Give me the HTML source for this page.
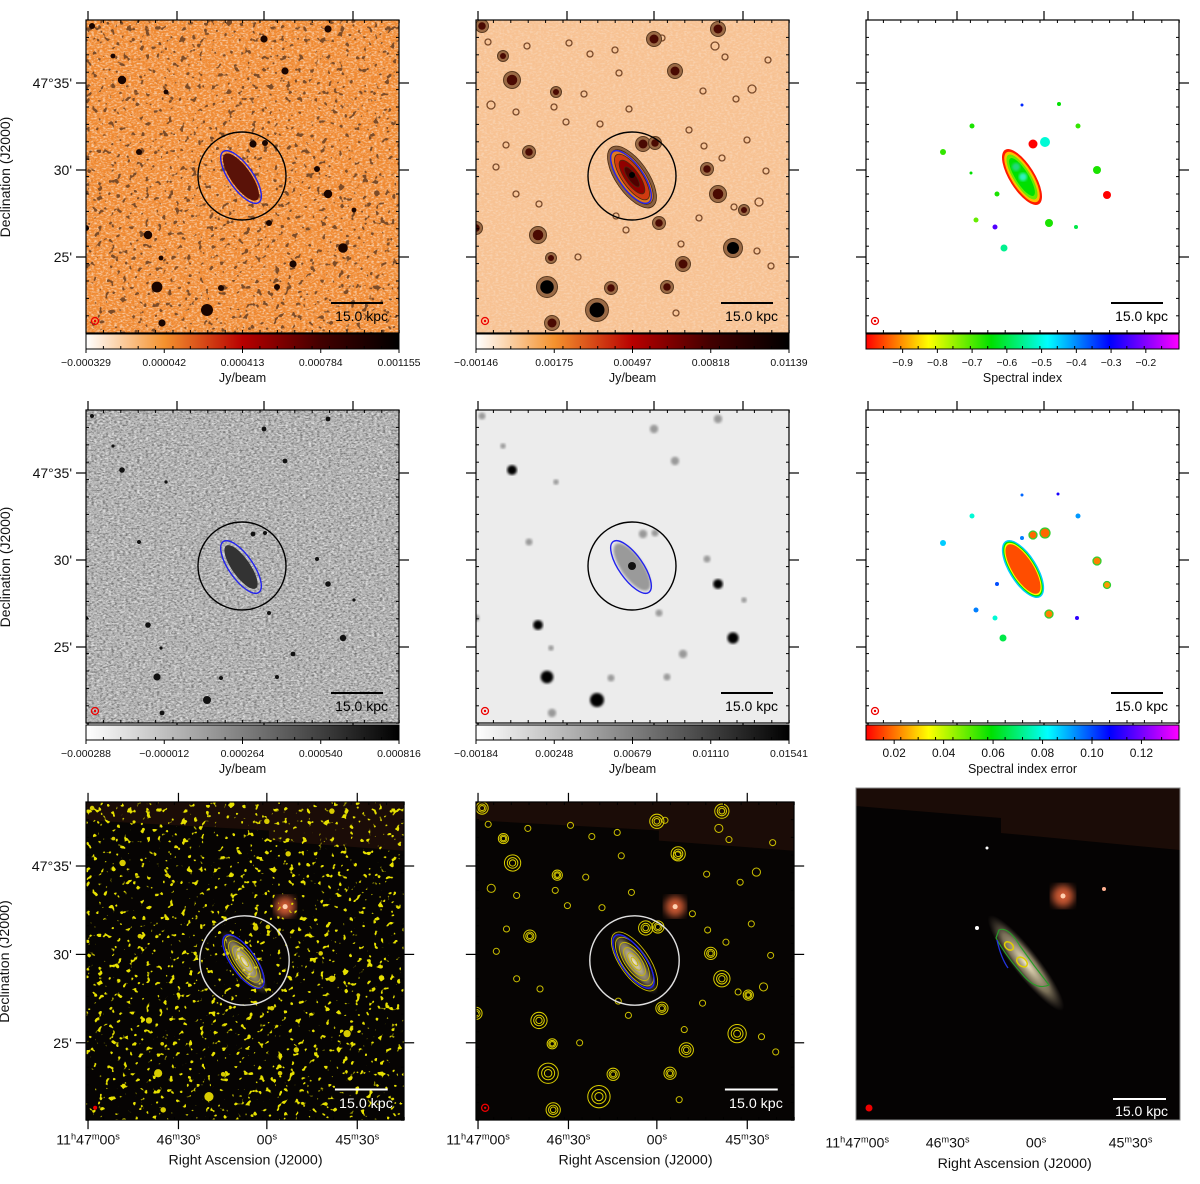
<!DOCTYPE html>
<html><head><meta charset="utf-8"><style>
html,body{margin:0;padding:0;background:#fff;}
svg{display:block;font-family:"Liberation Sans",sans-serif;}
text{fill:#111;}
</style></head><body>
<svg id="fig" width="1200" height="1184" viewBox="0 0 1200 1184" xmlns="http://www.w3.org/2000/svg">
<defs>
<linearGradient id="cmHeat"><stop offset="0" stop-color="#ffffff"/><stop offset="0.25" stop-color="#f5922e"/><stop offset="0.5" stop-color="#b80000"/><stop offset="0.75" stop-color="#420000"/><stop offset="1" stop-color="#000"/></linearGradient>
<linearGradient id="cmGray"><stop offset="0" stop-color="#fff"/><stop offset="1" stop-color="#000"/></linearGradient>
<linearGradient id="cmRainbow"><stop offset="0" stop-color="#ff0000"/><stop offset="0.2" stop-color="#ffff00"/><stop offset="0.4" stop-color="#00e000"/><stop offset="0.58" stop-color="#00ffff"/><stop offset="0.78" stop-color="#0000ff"/><stop offset="1" stop-color="#ff00ff"/></linearGradient>
<filter id="noiseW" x="0" y="0" width="1" height="1"><feTurbulence type="fractalNoise" baseFrequency="0.35 0.6" numOctaves="2" seed="4"/><feColorMatrix type="matrix" values="0 0 0 0 1  0 0 0 0 1  0 0 0 0 1  3 0 0 0 -1.3"/></filter>
<filter id="noiseK" x="0" y="0" width="1" height="1"><feTurbulence type="fractalNoise" baseFrequency="0.35 0.6" numOctaves="2" seed="9"/><feColorMatrix type="matrix" values="0 0 0 0 0  0 0 0 0 0  0 0 0 0 0  3 0 0 0 -1.35"/></filter>
<filter id="spotsDark" x="0" y="0" width="1" height="1"><feTurbulence type="fractalNoise" baseFrequency="0.17" numOctaves="2" seed="2"/><feColorMatrix type="matrix" values="0 0 0 0 0.2  0 0 0 0 0.07  0 0 0 0 0.02  16 0 0 0 -10.3"/></filter>
<filter id="spotsYellow" x="0" y="0" width="1" height="1"><feTurbulence type="fractalNoise" baseFrequency="0.17" numOctaves="2" seed="2"/><feColorMatrix type="matrix" values="0 0 0 0 0.8  0 0 0 0 0.75  0 0 0 0 0  16 0 0 0 -10.4"/></filter>
<filter id="soft"><feGaussianBlur stdDeviation="1.2"/></filter>
<filter id="blur3"><feGaussianBlur stdDeviation="4"/></filter>
<radialGradient id="galGlow"><stop offset="0" stop-color="#fff4d0" stop-opacity="0.95"/><stop offset="0.6" stop-color="#c8b890" stop-opacity="0.6"/><stop offset="1" stop-color="#807060" stop-opacity="0"/></radialGradient>
<clipPath id="clipP"><rect x="0" y="0" width="313" height="313"/></clipPath>
<clipPath id="clipP3"><rect x="0" y="0" width="324" height="332"/></clipPath>
</defs>
<g id="root"></g>
</svg>
<script>
// ---- data arrays (panel-relative positions on 313px frame) ----
const brightSrcX = [36,178,242,199,53,167,179,231,242,62,257,207,71,121,76,183,191,75,6,80,135,27,268,0];
const brightSrcY = [60,19,9,51,132,124,123,149,174,215,228,244,267,290,303,203,267,238,6,72,268,36,190,208];
const brightSrcR = [7,6,6,6,5,6,5,5,7,7,8,6,9,10,6,5,5,4,5,4,5,4,4,5];
const faintSrcX = [12,51,93,114,139,143,186,198,239,249,227,260,292,15,40,78,108,124,153,90,30,20,213,228,246,271,290,283,258,223,205,150,140,102,63,40,281,295,276,200];
const faintSrcY = [22,26,23,34,30,53,18,53,26,37,71,79,40,85,92,87,74,104,89,102,125,147,110,126,138,120,151,182,187,198,224,210,196,237,184,174,231,246,69,293];
const faintSrcR = [3,3,3,3,3,3,3,4,4,3,3,3,3,4,3,3,3,3,3,3,3,3,3,3,3,3,3,4,3,3,3,3,3,3,3,3,3,3,4,3];
const specBlobX = [106,77,156,193,212,167,179,231,241,105,131,110,129,183,138,210];
const specBlobY = [106,132,85,84,106,124,122,150,175,153,174,200,207,203,228,207];
const specBlobV = [0.38,0.36,0.75,0.4,0.36,0.0,0.55,0.38,0.0,0.4,0.38,0.32,0.85,0.38,0.5,0.45];
const specBlobR = [2.5,3,1.5,2,2.5,4.5,5,4,4,1.5,2.5,2.5,2.5,4,3.5,2];
const errBlobX = [106,77,167,179,156,212,231,241,183,137,110,129,211,131,192,156];
const errBlobY = [106,133,125,123,128,106,151,175,204,228,200,208,208,174,84,85];
const errBlobV = [0.55,0.62,0.08,0.08,0.68,0.66,0.1,0.12,0.1,0.45,0.68,0.55,0.82,0.72,0.8,0.7];
const errBlobR = [2.5,3,4,5,2,2.5,4,3.5,4,3.5,2.5,2.5,2,2,1.5,1.5];
const cbarTicks1a = ["\u22120.000329","0.000042","0.000413","0.000784","0.001155"];
const cbarTicks1b = ["\u22120.00146","0.00175","0.00497","0.00818","0.01139"];
const cbarTicks1c = ["\u22120.9","\u22120.8","\u22120.7","\u22120.6","\u22120.5","\u22120.4","\u22120.3","\u22120.2"];
const cbarTicks1cPos = [0.117,0.228,0.339,0.45,0.561,0.672,0.783,0.894];
const cbarTicks2a = ["\u22120.000288","\u22120.000012","0.000264","0.000540","0.000816"];
const cbarTicks2b = ["\u22120.00184","0.00248","0.00679","0.01110","0.01541"];
const cbarTicks2c = ["0.02","0.04","0.06","0.08","0.10","0.12"];
const cbarTicks2cPos = [0.09,0.248,0.406,0.564,0.722,0.88];
const decLabels = ["47\u00b035'","30'","25'"];
const decPos = [63,150,237];
const raPos = [2,91,178,267];

const NS="http://www.w3.org/2000/svg";
const root=document.getElementById('root');
function el(tag,attrs,parent){const e=document.createElementNS(NS,tag);for(const k in attrs)e.setAttribute(k,attrs[k]);(parent||root).appendChild(e);return e;}
function rainbow(v){const st=[[0,[255,0,0]],[0.2,[255,255,0]],[0.4,[0,224,0]],[0.58,[0,255,255]],[0.78,[0,0,255]],[1,[255,0,255]]];for(let i=1;i<st.length;i++){if(v<=st[i][0]){const t=(v-st[i-1][0])/(st[i][0]-st[i-1][0]);const c=st[i-1][1].map((a,j)=>Math.round(a+(st[i][1][j]-a)*t));return `rgb(${c})`;}}return 'rgb(255,0,255)';}

function panel(name,x,y,s){const g=el('g',{transform:`translate(${x},${y}) scale(${s})`});


const inner=el('g',{'clip-path':'url(#clipP)'},g);return [g,inner];}

function raLabels(g,rp,yl,yt,xt){const lbl=[['11','h','47','m','00','s'],['46','m','30','s'],['00','s'],['45','m','30','s']];
  rp.forEach((p,i)=>{const t=el('text',{x:p,y:yl,'font-size':14,'text-anchor':'middle'},g);
   
   
   const L=lbl[i];for(let k=0;k<L.length;k++){const ts=el('tspan',k%2? {'font-size':9,dy:-5}:{dy:k?5:0},t);ts.textContent=L[k];}});
  const t=el('text',{x:xt,y:yt,'font-size':14,'text-anchor':'middle'},g);t.textContent='Right Ascension (J2000)';
  
  }

function ticks(g,labels,ra){
 for(let i=0;i<=18;i++){const p=i*17.4;
  el('line',{x1:p,y1:0,x2:p,y2:3,stroke:'#000','stroke-width':1},g);
  el('line',{x1:p,y1:313,x2:p,y2:310,stroke:'#000','stroke-width':1},g);
  el('line',{x1:0,y1:p,x2:3,y2:p,stroke:'#000','stroke-width':1},g);
  el('line',{x1:313,y1:p,x2:310,y2:p,stroke:'#000','stroke-width':1},g);}
 raPos.forEach(p=>{el('line',{x1:p,y1:0,x2:p,y2:-9,stroke:'#000','stroke-width':1.2},g);el('line',{x1:p,y1:313,x2:p,y2:322,stroke:'#000','stroke-width':1.2},g);});
 decPos.forEach((p,i)=>{el('line',{x1:0,y1:p,x2:-10,y2:p,stroke:'#000','stroke-width':1.2},g);el('line',{x1:313,y1:p,x2:323,y2:p,stroke:'#000','stroke-width':1.2},g);
  if(labels){const t=el('text',{x:-14,y:p+5,'font-size':14,'text-anchor':'end'},g);t.textContent=decLabels[i];
   
   }});
 if(labels){const t=el('text',{x:0,y:0,'font-size':14,'text-anchor':'middle',transform:'translate(-76,157) rotate(-90)'},g);t.textContent='Declination (J2000)';
  
  }
 if(ra){raLabels(g,raPos,337,357,157);}
 el('rect',{x:0,y:0,width:313,height:313,fill:'none',stroke:'#000','stroke-width':1.2},g);
}
function scalebar(g,col){el('line',{x1:245,y1:283,x2:297,y2:283,stroke:col,'stroke-width':2},g);
 const t=el('text',{x:302,y:301,'font-size':14,'text-anchor':'end',style:`fill:${col}`},g);t.textContent='15.0 kpc';
 
 }
function beam(g){el('circle',{cx:9,cy:301,r:3.5,fill:'none',stroke:'#e00','stroke-width':1.3},g);el('circle',{cx:9,cy:301,r:1.2,fill:'#e00'},g);}
function regions(g,circCol){el('circle',{cx:156,cy:156,r:44,fill:'none',stroke:circCol,'stroke-width':1.4},g);
 el('ellipse',{cx:0,cy:0,rx:31,ry:12,fill:'none',stroke:'#2222ee','stroke-width':1.4,transform:'translate(155,157) rotate(55)'},g);}
function cbar(x,y,w,grad,labels,pos,title,fs){const g=el('g',{transform:`translate(${x},${y})`});
 
 
 el('rect',{x:0,y:0,width:w,height:15,fill:`url(#${grad})`,stroke:'#000','stroke-width':1},g);
 for(let i=0;i<=18;i++)el('line',{x1:i*w/18,y1:15,x2:i*w/18,y2:12,stroke:'#000'},g);
 labels.forEach((l,i)=>{const px=(pos?pos[i]:i/(labels.length-1))*w;el('line',{x1:px,y1:15,x2:px,y2:19,stroke:'#000'},g);
  const t=el('text',{x:px,y:32,'font-size':fs||10.5,'text-anchor':'middle'},g);t.textContent=l;
  
  });
 const t=el('text',{x:w/2,y:48,'font-size':12.5,'text-anchor':'middle'},g);t.textContent=title;
 
 }

// ---------- Row 1 ----------
{const [g,c]=panel('lofar-heat-map',86,20,1);
 el('rect',{width:313,height:313,fill:'#f08a32'},c);
 el('rect',{width:313,height:313,filter:'url(#noiseW)',opacity:0.55},c);
 el('rect',{width:313,height:313,filter:'url(#spotsDark)'},c);
 brightSrcX.forEach((sx,i)=>{const d=el('circle',{cx:sx,cy:brightSrcY[i],r:brightSrcR[i]*0.6,fill:'#1a0500'},c);});
 el('ellipse',{cx:0,cy:0,rx:28,ry:10,fill:'#5a1208',transform:'translate(155,157) rotate(55)'},c);
 regions(c,'#000');beam(c);scalebar(c,'#000');ticks(g,true,false);
 cbar(86,334,313,'cmHeat',cbarTicks1a,null,'Jy/beam');}
{const [g,c]=panel('smoothed-heat-map',476,20,1);
 el('rect',{width:313,height:313,fill:'#f7c293'},c);
 el('rect',{width:313,height:313,filter:'url(#noiseW)',opacity:0.25},c);
 faintSrcX.forEach((sx,i)=>{const d=el('circle',{cx:sx,cy:faintSrcY[i],r:faintSrcR[i],fill:'none',stroke:'#7a4a2a','stroke-width':1.3},c);});
 brightSrcX.forEach((sx,i)=>{const r=brightSrcR[i];
  el('circle',{cx:sx,cy:brightSrcY[i],r:r+1.5,fill:'#9a6a45',stroke:'#5a3a20','stroke-width':1},c);
  const d=el('circle',{cx:sx,cy:brightSrcY[i],r:r*0.75,fill:r>=8?'#000':'#4a0a02'},c);});
 [[36,16,'#8a6040'],[32,13,'#e07a20'],[27,10,'#d03a10'],[20,7,'#900000'],[12,4,'#500000']].forEach(a=>el('ellipse',{cx:0,cy:0,rx:a[0],ry:a[1],fill:a[2],stroke:'#4a2a10','stroke-width':0.8,transform:'translate(156,157) rotate(55)'},c));
 el('circle',{cx:156,cy:155,r:3,fill:'#000'},c);
 regions(c,'#000');beam(c);scalebar(c,'#000');ticks(g,false,false);
 cbar(476,334,313,'cmHeat',cbarTicks1b,null,'Jy/beam');}
{const [g,c]=panel('spectral-index-map',866,20,1);
 el('rect',{width:313,height:313,fill:'#fff'},c);
 [[32,12.5,0.02],[29,10.5,0.15],[26,8.5,0.32],[22,6.5,0.4]].forEach(a=>el('ellipse',{cx:0,cy:0,rx:a[0],ry:a[1],fill:rainbow(a[2]),transform:'translate(156,157) rotate(58)'},c));
 el('circle',{cx:157,cy:157,r:4,fill:'#30f0c0',filter:'url(#soft)'},c);
 el('circle',{cx:150,cy:147,r:4,fill:'#20d880',filter:'url(#soft)'},c);
 specBlobX.forEach((sx,i)=>{const d=el('circle',{cx:sx,cy:specBlobY[i],r:specBlobR[i],fill:rainbow(specBlobV[i])},c);});
 beam(c);scalebar(c,'#000');ticks(g,false,false);
 cbar(866,334,313,'cmRainbow',cbarTicks1c,cbarTicks1cPos,'Spectral index',10.5);}
// ---------- Row 2 ----------
{const [g,c]=panel('lofar-gray-map',86,410,1);
 el('rect',{width:313,height:313,fill:'#b4b4b4'},c);
 el('rect',{width:313,height:313,filter:'url(#noiseW)',opacity:0.6},c);
 el('rect',{width:313,height:313,filter:'url(#noiseK)',opacity:0.35},c);
 brightSrcX.forEach((sx,i)=>{const d=el('circle',{cx:sx,cy:brightSrcY[i],r:brightSrcR[i]*0.4,fill:'#111'},c);});
 el('ellipse',{cx:0,cy:0,rx:26,ry:9,fill:'#333',transform:'translate(155,157) rotate(55)'},c);
 regions(c,'#000');beam(c);scalebar(c,'#000');ticks(g,true,false);
 cbar(86,725,313,'cmGray',cbarTicks2a,null,'Jy/beam');}
{const [g,c]=panel('nvss-gray-map',476,410,1);
 el('rect',{width:313,height:313,fill:'#ececec'},c);
 brightSrcX.forEach((sx,i)=>{const r=brightSrcR[i];const d=el('circle',{cx:sx,cy:brightSrcY[i],r:r*0.7,fill:r>=7?'#000':'#999',filter:'url(#soft)'},c);});
 el('ellipse',{cx:0,cy:0,rx:28,ry:11,fill:'#9a9a9a',filter:'url(#soft)',transform:'translate(156,157) rotate(55)'},c);
 el('circle',{cx:156,cy:156,r:4,fill:'#111'},c);
 regions(c,'#000');beam(c);scalebar(c,'#000');ticks(g,false,false);
 cbar(476,725,313,'cmGray',cbarTicks2b,null,'Jy/beam');}
{const [g,c]=panel('spectral-index-error-map',866,410,1);
 el('rect',{width:313,height:313,fill:'#fff'},c);
 [[33,14,0.62],[31.5,12.5,0.4],[30,11.5,0.2],[28.5,10.5,0.06]].forEach(a=>el('ellipse',{cx:0,cy:0,rx:a[0],ry:a[1],fill:rainbow(a[2]),transform:'translate(157,159) rotate(58)'},c));
 errBlobX.forEach((sx,i)=>{const v=errBlobV[i];const d=el('circle',{cx:sx,cy:errBlobY[i],r:errBlobR[i],fill:rainbow(v),stroke:v<0.3?'#30d030':'none','stroke-width':1.3},c);});
 beam(c);scalebar(c,'#000');ticks(g,false,false);
 cbar(866,725,313,'cmRainbow',cbarTicks2c,cbarTicks2cPos,'Spectral index error',12);}
// ---------- Row 3 ----------
const S3=318/313;
function optBg(c){el('rect',{width:313,height:313,fill:'#060403'},c);
 el('polygon',{points:'0,0 313,0 313,48 180,38 180,28 0,18',fill:'#1e0d08',opacity:0.9},c);
 el('circle',{cx:196,cy:103,r:10,fill:'#ff7040',filter:'url(#blur3)',opacity:0.8},c);
 el('circle',{cx:196,cy:103,r:2.5,fill:'#ffd0b0'},c);}
{const [g,c]=panel('optical-overlay-lofar',86,802,S3);
 optBg(c);
 el('rect',{width:313,height:313,filter:'url(#spotsYellow)'},c);
 brightSrcX.forEach((sx,i)=>{const d=el('circle',{cx:sx,cy:brightSrcY[i],r:brightSrcR[i]*0.45,fill:'#d8cc00'},c);});
 el('ellipse',{cx:0,cy:0,rx:38,ry:10,fill:'url(#galGlow)',transform:'translate(156,158) rotate(55)'},c);
 [30,24,18,12,6].forEach(r=>el('ellipse',{cx:0,cy:0,rx:r,ry:r*0.38,fill:'none',stroke:'#c8b800','stroke-width':0.9,transform:'translate(156,157) rotate(55)'},c));
 regions(c,'#e0e0e0');el('circle',{cx:9,cy:301,r:2,fill:'#e00'},c);scalebar(c,'#fff');ticks(g,true,true);}
{const [g,c]=panel('optical-overlay-nvss',476,802,S3);
 optBg(c);
 faintSrcX.forEach((sx,i)=>{const d=el('circle',{cx:sx,cy:faintSrcY[i],r:faintSrcR[i],fill:'none',stroke:'#c8bc00','stroke-width':1},c);});
 brightSrcX.forEach((sx,i)=>{const r=brightSrcR[i];[1,0.6,0.3].forEach(f=>el('circle',{cx:sx,cy:brightSrcY[i],r:r*f+1,fill:'none',stroke:'#d8cc00','stroke-width':1},c));});
 el('ellipse',{cx:0,cy:0,rx:38,ry:10,fill:'url(#galGlow)',transform:'translate(156,158) rotate(55)'},c);
 [34,28,22,16,10,5].forEach(r=>el('ellipse',{cx:0,cy:0,rx:r,ry:r*0.42,fill:'none',stroke:'#c8b800','stroke-width':0.9,transform:'translate(156,157) rotate(55)'},c));
 regions(c,'#e0e0e0');beam(c);scalebar(c,'#fff');ticks(g,false,true);}
{const g=el('g',{transform:'translate(856,788)'});
 
 
 const c=el('g',{'clip-path':'url(#clipP3)'},g);
 el('rect',{width:324,height:332,fill:'#050303'},c);
 el('polygon',{points:'0,0 324,0 324,62 145,45 145,30 0,18',fill:'#1e0d08',opacity:0.9},c);
 el('circle',{cx:207,cy:108,r:11,fill:'#ff7040',filter:'url(#blur3)',opacity:0.8},c);
 el('circle',{cx:207,cy:108,r:2.5,fill:'#ffd0b0'},c);
 el('circle',{cx:248,cy:101,r:2,fill:'#ffb090'},c);
 el('circle',{cx:121,cy:140,r:2,fill:'#fff'},c);
 el('circle',{cx:131,cy:60,r:1.5,fill:'#fff'},c);
 el('ellipse',{cx:0,cy:0,rx:60,ry:13,fill:'url(#galGlow)',transform:'translate(170,175) rotate(52)'},c);
 el('path',{d:'M143,142 Q152,138 164,158 Q178,178 193,197 Q180,203 166,186 Q150,168 140,150 Z',fill:'none',stroke:'#2a9a2a','stroke-width':1.2},c);
 el('path',{d:'M141,152 Q145,170 152,180',fill:'none',stroke:'#2233dd','stroke-width':1.3},c);
 el('ellipse',{cx:153,cy:158,rx:5,ry:3.5,fill:'none',stroke:'#e0d000','stroke-width':1.5,transform:'rotate(40 153 158)'},c);
 el('ellipse',{cx:166,cy:174,rx:6,ry:4,fill:'none',stroke:'#e0d000','stroke-width':1.5,transform:'rotate(40 166 174)'},c);
 el('circle',{cx:13,cy:320,r:3.5,fill:'#e00'},c);
 el('line',{x1:257,y1:311,x2:310,y2:311,stroke:'#fff','stroke-width':2},c);
 const t=el('text',{x:312,y:328,'font-size':14,'text-anchor':'end',style:'fill:#fff'},c);t.textContent='15.0 kpc';
 
 
 const ra=el('g',{transform:'translate(-11,14) scale(1.016)'},g);
 raLabels(ra,[12,101,188,281],340,360,167);
 el('rect',{x:0,y:0,width:324,height:332,fill:'none',stroke:'#888','stroke-width':1},g);}
</script>
</body></html>
